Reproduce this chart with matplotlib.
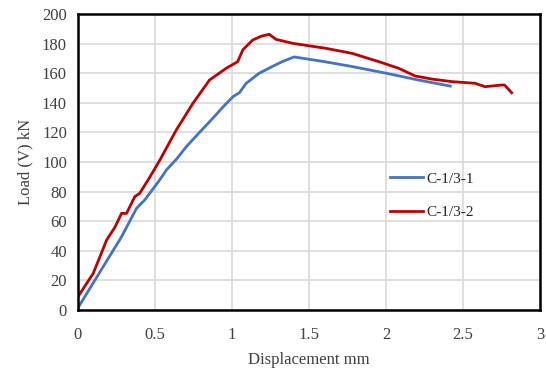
import matplotlib
matplotlib.use("Agg")
import matplotlib.pyplot as plt

# C-1/3-1 (blue)
x1 = [0.0, 0.05, 0.15, 0.283, 0.38, 0.433, 0.53, 0.574, 0.64, 0.703, 0.78, 0.865, 0.94, 1.005, 1.05,
      1.09, 1.177, 1.263, 1.33, 1.404, 1.6, 1.78, 2.0, 2.21, 2.417]
y1 = [1.5, 10, 27, 49.5, 68.7, 74.3, 87.8, 94.6, 102, 110.3, 119, 128.4, 137, 144, 147,
      153, 160, 164.6, 168, 171, 167.8, 164.5, 160, 155.4, 151.3]

# C-1/3-2 (red)
x2 = [0.0, 0.05, 0.099, 0.186, 0.24, 0.283, 0.315, 0.369, 0.40, 0.455, 0.53, 0.638, 0.746, 0.854,
      0.962, 1.037, 1.07, 1.134, 1.19, 1.242, 1.285, 1.393, 1.61, 1.78, 1.953, 2.083, 2.19, 2.3,
      2.428, 2.578, 2.643, 2.75, 2.77, 2.816]
y2 = [9, 17, 24.8, 47.3, 56, 65.3, 65.3, 76.6, 78.8, 87.8, 101, 121.6, 139.6, 155.4,
      163.3, 167.8, 175.7, 182.4, 185, 186.3, 182.9, 180.2, 176.8, 173.4, 167.8, 163.3, 158.1, 156,
      154.3, 153.2, 150.9, 152, 152, 146.8]

labels = ["C-1/3-1", "C-1/3-2"]
xticks = [0, 0.5, 1, 1.5, 2, 2.5, 3]
yticks = list(range(0, 201, 20))

plt.rcParams['font.family'] = ['Liberation Serif', 'DejaVu Serif']

fig = plt.figure(figsize=(5.46, 3.74), dpi=100)
ax = fig.add_axes([78/546, 1-310/374, (540-78)/546, (310-14)/374])

ax.plot(x1, y1, color='#4472C4', lw=2, label=labels[0])
ax.plot(x2, y2, color='#C00000', lw=2, label=labels[1])

ax.set_xlim(0, 3)
ax.set_ylim(0, 200)
ax.set_xticks(xticks)
ax.set_xticklabels(['0', '0.5', '1', '1.5', '2', '2.5', '3'])
ax.set_yticks(yticks)
ax.grid(True, color='#d9d9d9', lw=1.2)
ax.set_axisbelow(True)
for s in ax.spines.values():
    s.set_color('black')
    s.set_linewidth(1.8)
ax.tick_params(length=0, labelsize=12, colors='#404040', pad=8)
ax.tick_params(axis='x', pad=12)
ax.set_xlabel('Displacement mm', fontsize=12, color='#404040', labelpad=7)
ax.set_ylabel('Load (V) kN', fontsize=12, color='#404040', labelpad=6)

leg = ax.legend(loc='upper left', bbox_to_anchor=(0.645, 0.513), frameon=False, fontsize=11,
                handlelength=2.15, handletextpad=0.26, labelspacing=1.3)
for t in leg.get_texts():
    t.set_color('#262626')

fig.savefig('out.png', dpi=100)
